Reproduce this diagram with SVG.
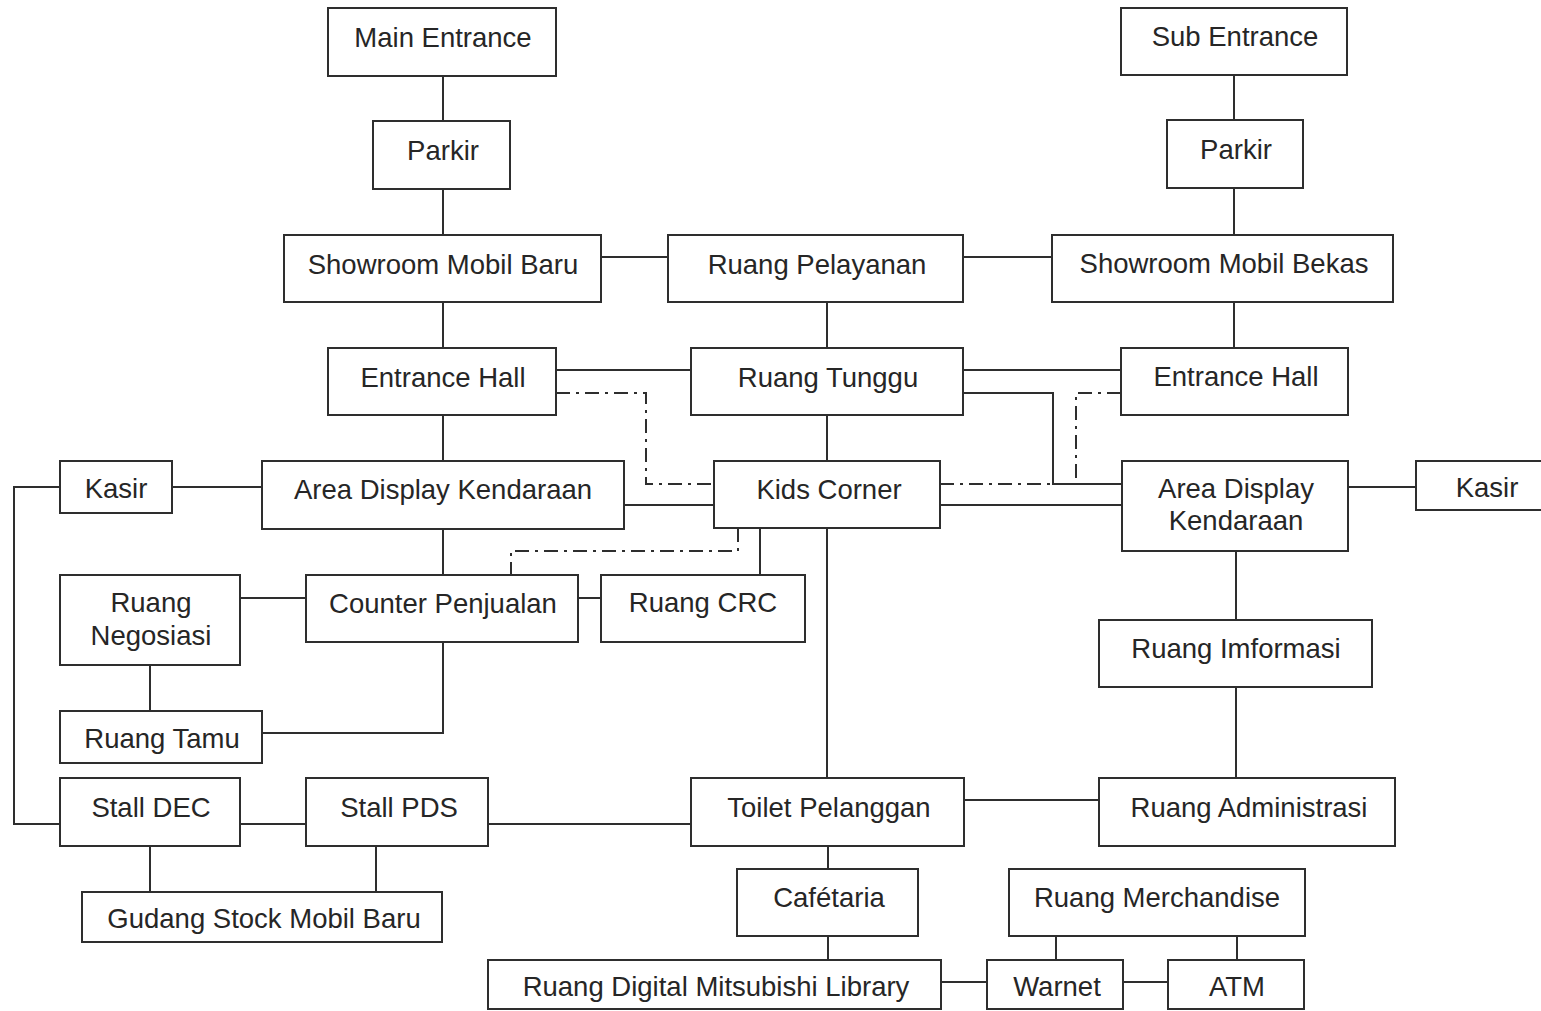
<svg xmlns="http://www.w3.org/2000/svg" width="1541" height="1011" viewBox="0 0 1541 1011">
  <style>
    .box { fill: #ffffff; stroke: #2e2e2e; stroke-width: 2; }
    .lbl { font-family: "Liberation Sans", Arial, sans-serif; font-size: 27.5px; fill: #262626; text-anchor: middle; }
    .ln { fill: none; stroke: #2e2e2e; stroke-width: 2; }
    .dd { fill: none; stroke: #2e2e2e; stroke-width: 2; stroke-dasharray: 14 6 3 6; }
  </style>
  <rect width="1541" height="1011" fill="#ffffff"/>

  <!-- connectors -->
  <g id="connectors">
    <path class="ln" d="M443 76V121M443 189V235M1234 75V120M1234 188V235"/>
    <path class="ln" d="M601 257H668M963 257H1052"/>
    <path class="ln" d="M443 302V348M827 302V348M1234 302V348"/>
    <path class="ln" d="M556 370H691M963 370H1121"/>
    <path class="ln" d="M963 393H1053V484H1122"/>
    <path class="ln" d="M443 415V461M827 415V461"/>
    <path class="ln" d="M172 487H262M1348 487H1416"/>
    <path class="ln" d="M60 487H14V824H60"/>
    <path class="ln" d="M624 505H714M940 505H1122"/>
    <path class="ln" d="M443 529V575M760 528V575M827 528V778"/>
    <path class="ln" d="M240 598H306M578 598H601"/>
    <path class="ln" d="M443 642V733H262M150 665V711"/>
    <path class="ln" d="M240 824H306M488 824H691M964 800H1099"/>
    <path class="ln" d="M150 846V892M376 846V892"/>
    <path class="ln" d="M1236 551V620M1236 687V778"/>
    <path class="ln" d="M828 846V869M828 936V960"/>
    <path class="ln" d="M941 982H987M1123 982H1168M1056 936V960M1237 936V960"/>
    <!-- secondary (dash-dot) relations -->
    <path class="dd" d="M556 393H646V484H714"/>
    <path class="dd" d="M1121 393H1076V483"/>
    <path class="dd" d="M940 484H1050"/>
    <path class="dd" d="M738 528V551H511V575"/>
  </g>

  <!-- nodes -->
  <g id="main-entrance"><rect class="box" x="328" y="8" width="228" height="68"/><text class="lbl" x="443" y="47">Main Entrance</text></g>
  <g id="sub-entrance"><rect class="box" x="1121" y="8" width="226" height="67"/><text class="lbl" x="1235" y="46">Sub Entrance</text></g>
  <g id="parkir-left"><rect class="box" x="373" y="121" width="137" height="68"/><text class="lbl" x="443" y="160">Parkir</text></g>
  <g id="parkir-right"><rect class="box" x="1167" y="120" width="136" height="68"/><text class="lbl" x="1236" y="159">Parkir</text></g>
  <g id="showroom-baru"><rect class="box" x="284" y="235" width="317" height="67"/><text class="lbl" x="443" y="274">Showroom Mobil Baru</text></g>
  <g id="ruang-pelayanan"><rect class="box" x="668" y="235" width="295" height="67"/><text class="lbl" x="817" y="274">Ruang Pelayanan</text></g>
  <g id="showroom-bekas"><rect class="box" x="1052" y="235" width="341" height="67"/><text class="lbl" x="1224" y="273">Showroom Mobil Bekas</text></g>
  <g id="entrance-hall-left"><rect class="box" x="328" y="348" width="228" height="67"/><text class="lbl" x="443" y="387">Entrance Hall</text></g>
  <g id="ruang-tunggu"><rect class="box" x="691" y="348" width="272" height="67"/><text class="lbl" x="828" y="387">Ruang Tunggu</text></g>
  <g id="entrance-hall-right"><rect class="box" x="1121" y="348" width="227" height="67"/><text class="lbl" x="1236" y="386">Entrance Hall</text></g>
  <g id="kasir-left"><rect class="box" x="60" y="461" width="112" height="52"/><text class="lbl" x="116" y="498">Kasir</text></g>
  <g id="area-display-left"><rect class="box" x="262" y="461" width="362" height="68"/><text class="lbl" x="443" y="499">Area Display Kendaraan</text></g>
  <g id="kids-corner"><rect class="box" x="714" y="461" width="226" height="67"/><text class="lbl" x="829" y="499">Kids Corner</text></g>
  <g id="area-display-right"><rect class="box" x="1122" y="461" width="226" height="90"/><text class="lbl" x="1236" y="498">Area Display</text><text class="lbl" x="1236" y="530">Kendaraan</text></g>
  <g id="kasir-right"><rect class="box" x="1416" y="461" width="135" height="49"/><text class="lbl" x="1487" y="497">Kasir</text></g>
  <g id="ruang-negosiasi"><rect class="box" x="60" y="575" width="180" height="90"/><text class="lbl" x="151" y="612">Ruang</text><text class="lbl" x="151" y="645">Negosiasi</text></g>
  <g id="counter-penjualan"><rect class="box" x="306" y="575" width="272" height="67"/><text class="lbl" x="443" y="613">Counter Penjualan</text></g>
  <g id="ruang-crc"><rect class="box" x="601" y="575" width="204" height="67"/><text class="lbl" x="703" y="612">Ruang CRC</text></g>
  <g id="ruang-imformasi"><rect class="box" x="1099" y="620" width="273" height="67"/><text class="lbl" x="1236" y="658">Ruang Imformasi</text></g>
  <g id="ruang-tamu"><rect class="box" x="60" y="711" width="202" height="52"/><text class="lbl" x="162" y="748">Ruang Tamu</text></g>
  <g id="stall-dec"><rect class="box" x="60" y="778" width="180" height="68"/><text class="lbl" x="151" y="817">Stall DEC</text></g>
  <g id="stall-pds"><rect class="box" x="306" y="778" width="182" height="68"/><text class="lbl" x="399" y="817">Stall PDS</text></g>
  <g id="toilet-pelanggan"><rect class="box" x="691" y="778" width="273" height="68"/><text class="lbl" x="829" y="817">Toilet Pelanggan</text></g>
  <g id="ruang-administrasi"><rect class="box" x="1099" y="778" width="296" height="68"/><text class="lbl" x="1249" y="817">Ruang Administrasi</text></g>
  <g id="gudang-stock"><rect class="box" x="82" y="892" width="360" height="50"/><text class="lbl" x="264" y="928">Gudang Stock Mobil Baru</text></g>
  <g id="cafetaria"><rect class="box" x="737" y="869" width="181" height="67"/><text class="lbl" x="829" y="907">Cafétaria</text></g>
  <g id="ruang-merchandise"><rect class="box" x="1009" y="869" width="296" height="67"/><text class="lbl" x="1157" y="907">Ruang Merchandise</text></g>
  <g id="digital-library"><rect class="box" x="488" y="960" width="453" height="49"/><text class="lbl" x="716" y="996">Ruang Digital Mitsubishi Library</text></g>
  <g id="warnet"><rect class="box" x="987" y="960" width="136" height="49"/><text class="lbl" x="1057" y="996">Warnet</text></g>
  <g id="atm"><rect class="box" x="1168" y="960" width="136" height="49"/><text class="lbl" x="1237" y="996">ATM</text></g>
</svg>
